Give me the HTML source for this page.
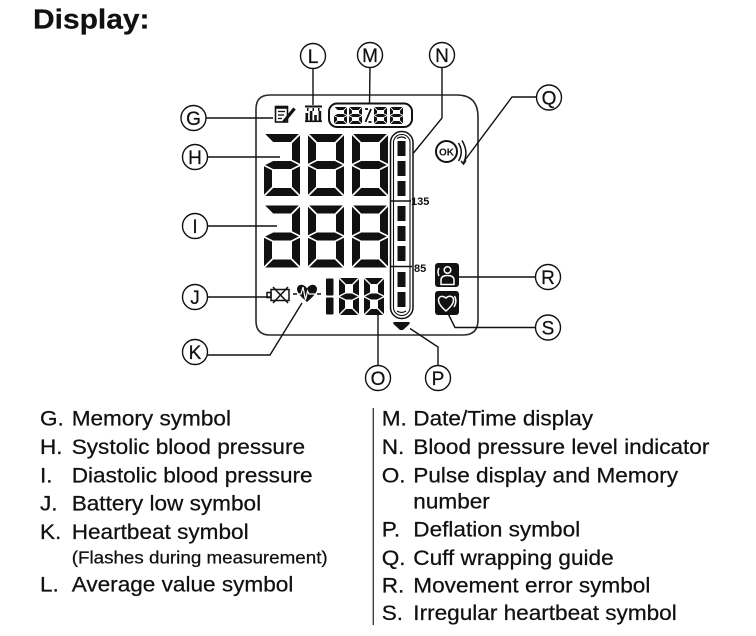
<!DOCTYPE html>
<html>
<head>
<meta charset="utf-8">
<style>
  html,body{margin:0;padding:0;background:#fff;}
  body{width:756px;height:636px;overflow:hidden;}
  svg{display:block;}
  .t{font-family:"Liberation Sans",Arial,sans-serif;fill:#111;}
  .s{stroke:#111;stroke-width:0.25;}
</style>
</head>
<body>
<svg width="756" height="636" viewBox="0 0 756 636" xmlns="http://www.w3.org/2000/svg">
  <defs>
    <g id="Bnf">
      <polygon points="1.2,0 34.8,0 26.8,8 9.2,8"/>
      <polygon points="36,1.2 28,9.2 28,25.8 36,29.8"/>
      <polygon points="36,32.2 28,36.2 28,52.8 36,60.8"/>
      <polygon points="1.2,62 34.8,62 26.8,54 9.2,54"/>
      <polygon points="0,32.2 8,36.2 8,52.8 0,60.8"/>
      <polygon points="1.2,31 9.2,27 26.8,27 34.8,31 26.8,35 9.2,35"/>
    </g>
    <g id="B8">
      <use href="#Bnf"/>
      <polygon points="0,1.2 8,9.2 8,25.8 0,29.8"/>
    </g>
    <g id="S8">
      <polygon points="1,0 19,0 13,6 7,6"/>
      <polygon points="20,1 14,7 14,14.5 20,17.5"/>
      <polygon points="20,19.5 14,22.5 14,30 20,36"/>
      <polygon points="1,37 19,37 13,31 7,31"/>
      <polygon points="0,19.5 6,22.5 6,30 0,36"/>
      <polygon points="0,1 6,7 6,14.5 0,17.5"/>
      <polygon points="1,18.5 7,15.5 13,15.5 19,18.5 13,21.5 7,21.5"/>
    </g>
    <g id="Dnf">
      <polygon points="0.6,0 12.4,0 9.4,3 3.6,3"/>
      <polygon points="13,0.6 10,3.6 10,6.4 13,7.9"/>
      <polygon points="13,9.1 10,10.6 10,13.4 13,16.4"/>
      <polygon points="0.6,17 12.4,17 9.4,14 3.6,14"/>
      <polygon points="0,9.1 3,10.6 3,13.4 0,16.4"/>
      <polygon points="0.6,8.5 3.6,7 9.4,7 12.4,8.5 9.4,10 3.6,10"/>
    </g>
    <g id="D8">
      <use href="#Dnf"/>
      <polygon points="0,0.6 3,3.6 3,6.4 0,7.9"/>
    </g>
  </defs>

  <text class="t s" font-size="28" font-weight="bold" transform="translate(33 28.3) scale(1.07 1)">Display:</text>

  <path d="M270,95 L457,95 Q478,95 478,117 L478,320 Q478,335 463,335 L270,335 Q256,335 256,321 L256,109 Q256,95 270,95 Z" fill="none" stroke="#2a2a2a" stroke-width="1.6"/>

  <g fill="#111">
    <use href="#Bnf" transform="translate(264 134)"/>
    <use href="#B8" transform="translate(308 134)"/>
    <use href="#B8" transform="translate(352 134)"/>
    <use href="#Bnf" transform="translate(264 205.5)"/>
    <use href="#B8" transform="translate(308 205.5)"/>
    <use href="#B8" transform="translate(352 205.5)"/>
    <rect x="326" y="278.5" width="7.5" height="17" rx="1"/>
    <rect x="326" y="297.5" width="7.5" height="17" rx="1"/>
    <use href="#S8" transform="translate(339 278)"/>
    <use href="#S8" transform="translate(364 278)"/>
    <use href="#Dnf" transform="translate(334 107)"/>
    <use href="#D8" transform="translate(349 107)"/>
    <use href="#D8" transform="translate(374 107)"/>
    <use href="#D8" transform="translate(390 107)"/>
  </g>
  <rect x="329" y="103.5" width="83" height="23.5" rx="8" fill="none" stroke="#111" stroke-width="2"/>
  <g stroke="#111" stroke-width="1.8" fill="none">
    <line x1="371" y1="109" x2="365.5" y2="122"/>
    <line x1="365" y1="109" x2="368" y2="109"/>
    <line x1="368.5" y1="122" x2="371.5" y2="122"/>
  </g>

  <g stroke="#111" fill="none">
    <rect x="275.5" y="106.5" width="12" height="15.5" stroke-width="1.6"/>
    <line x1="275" y1="107.5" x2="288" y2="107.5" stroke-width="2.6"/>
    <line x1="278" y1="111.5" x2="285" y2="111.5" stroke-width="1.3"/>
    <line x1="278" y1="115" x2="284" y2="115" stroke-width="1.3"/>
    <line x1="278" y1="118.5" x2="282" y2="118.5" stroke-width="1.3"/>
    <line x1="283.5" y1="122" x2="294.5" y2="108.5" stroke-width="3.2"/>
  </g>

  <g fill="#111">
    <rect x="305" y="105.5" width="17" height="2"/>
    <rect x="307" y="108" width="1.5" height="3"/>
    <rect x="312.5" y="108" width="1.5" height="3"/>
    <rect x="318" y="108" width="1.5" height="3"/>
    <rect x="305.5" y="113" width="2.6" height="8"/>
    <rect x="309.8" y="111" width="2.6" height="10"/>
    <rect x="314.2" y="115" width="2.6" height="6"/>
    <rect x="318.6" y="111" width="2.6" height="10"/>
    <rect x="305" y="120.5" width="17" height="1.6"/>
  </g>

  <rect x="390.5" y="131.5" width="22.5" height="187" rx="11" fill="none" stroke="#111" stroke-width="1.5"/>
  <rect x="393.5" y="134.5" width="16.5" height="181" rx="8" fill="none" stroke="#111" stroke-width="1.1"/>
  <g fill="#111">
    <rect x="397.5" y="141" width="8" height="15"/>
    <rect x="397.5" y="161" width="8" height="15"/>
    <rect x="397.5" y="181" width="8" height="15"/>
    <rect x="397.5" y="206" width="8" height="15"/>
    <rect x="397.5" y="226" width="8" height="15"/>
    <rect x="397.5" y="246" width="8" height="15"/>
    <rect x="397.5" y="272" width="8" height="15"/>
    <rect x="397.5" y="292" width="8" height="15"/>
  </g>
  <g stroke="#111" fill="none">
    <path d="M397,138.5 Q401.5,135.5 406,138.5" stroke-width="1.2"/>
    <path d="M397,311 Q401.5,314 406,311" stroke-width="1.2"/>
    <line x1="391" y1="201" x2="411" y2="201" stroke-width="1.6"/>
    <line x1="391" y1="266.5" x2="412" y2="266.5" stroke-width="1.6"/>
  </g>
  <text class="t" x="411" y="205" font-size="11" font-weight="bold">135</text>
  <text class="t" x="414" y="272" font-size="11" font-weight="bold">85</text>

  <path d="M394,322 L409,322 Q410,322 409.5,324 L403,330 L400,330 L393.5,324 Q393,322 394,322 Z" fill="#111"/>

  <circle cx="446.5" cy="151.5" r="10.5" fill="none" stroke="#111" stroke-width="2"/>
  <text class="t" x="446.5" y="155.3" font-size="10" font-weight="bold" text-anchor="middle">OK</text>
  <g stroke="#111" fill="none" stroke-width="1.5">
    <path d="M458.5,143 Q464,152 458.5,161"/>
    <path d="M462,140.5 Q469,152 463.5,163"/>
    <path d="M461,161 L463.5,164 L466,160.5"/>
  </g>

  <rect x="435" y="263" width="24" height="24" rx="3" fill="#111"/>
  <g stroke="#fff" fill="none" stroke-width="1.5">
    <circle cx="447.5" cy="270" r="3.3"/>
    <path d="M441,284.5 L441,279.5 Q441.5,275.5 447.5,275.5 Q453.5,275.5 454,279.5 L454,284.5 Z"/>
    <path d="M439,268 Q437,272 439,276"/>
  </g>

  <rect x="435" y="291" width="24" height="24" rx="3" fill="#111"/>
  <g stroke="#fff" fill="none" stroke-width="1.5">
    <path d="M446,311 C440,306 438.5,303 438.5,300 C438.5,296.5 442,295 446,298 C449,295 453.5,296 453.5,300 C453.5,303.5 451,306.5 446,311 Z"/>
    <path d="M454.5,296 Q457.5,301 454,307"/>
  </g>

  <g stroke="#111" fill="none" stroke-width="1.5">
    <rect x="271" y="289.5" width="18" height="11"/>
    <rect x="267" y="292.5" width="4" height="5"/>
    <line x1="273" y1="287" x2="288" y2="303"/>
    <line x1="288" y1="287" x2="273" y2="303"/>
  </g>

  <path d="M307,302 C300.5,296.5 297,292.5 297,289 C297,285.5 300.5,284 303,285 C305,285.8 306.5,287.5 307,288.5 C307.5,287.5 309,285.8 311,285 C313.5,284 317,285.5 317,289 C317,292.5 313.5,296.5 307,302 Z" fill="#111"/>
  <polyline points="296,294 301,294 303,287 305.5,300 307.5,291 309,294 318,294" fill="none" stroke="#fff" stroke-width="1.2"/>
  <g stroke="#111" stroke-width="1.5">
    <line x1="293" y1="294" x2="297" y2="294"/>
    <line x1="317" y1="294" x2="321" y2="294"/>
  </g>

  <g stroke="#111" stroke-width="1.4" fill="none">
    <line x1="313" y1="68.5" x2="313" y2="105"/>
    <line x1="370" y1="67.5" x2="369.5" y2="104"/>
    <polyline points="442,67.5 442,118 413.5,153"/>
    <line x1="205.5" y1="118" x2="273" y2="118"/>
    <line x1="207.5" y1="157" x2="280" y2="157"/>
    <line x1="207.5" y1="226" x2="277" y2="226"/>
    <line x1="207.5" y1="297" x2="270" y2="297"/>
    <polyline points="206.5,355 270,355 302,303"/>
    <line x1="378" y1="365.5" x2="378" y2="310"/>
    <polyline points="438,365.5 438,347 410,328.5"/>
    <polyline points="536.5,97 512,97 465,160"/>
    <line x1="535.5" y1="277" x2="458" y2="277"/>
    <polyline points="535.5,327.5 455,327.5 447,311.5"/>
  </g>

  <g fill="#fff" stroke="#111" stroke-width="1.4">
    <circle cx="313" cy="56" r="12.5"/>
    <circle cx="370" cy="55" r="12.5"/>
    <circle cx="442" cy="55" r="12.5"/>
    <circle cx="193.5" cy="118" r="12.5"/>
    <circle cx="195" cy="157" r="12.5"/>
    <circle cx="195" cy="226" r="12.5"/>
    <circle cx="195" cy="297" r="12.5"/>
    <circle cx="195" cy="352" r="12.5"/>
    <circle cx="378" cy="378" r="12.5"/>
    <circle cx="438" cy="378" r="12.5"/>
    <circle cx="549" cy="97.5" r="12.5"/>
    <circle cx="548" cy="277" r="12.5"/>
    <circle cx="548" cy="327.5" r="12.5"/>
  </g>
  <g class="t s" font-size="19" text-anchor="middle">
    <text x="313" y="62.8">L</text>
    <text x="370" y="61.8">M</text>
    <text x="442" y="61.8">N</text>
    <text x="193.5" y="124.8">G</text>
    <text x="195" y="163.8">H</text>
    <text x="195" y="232.8">I</text>
    <text x="195" y="303.8">J</text>
    <text x="195" y="358.8">K</text>
    <text x="378" y="384.8">O</text>
    <text x="438" y="384.8">P</text>
    <text x="549" y="104.3">Q</text>
    <text x="548" y="283.8">R</text>
    <text x="548" y="334.3">S</text>
  </g>

  <line x1="373.3" y1="408" x2="373.3" y2="625" stroke="#333" stroke-width="1.3"/>

  <g class="t s" font-size="21">
    <text transform="translate(40 425.7) scale(1.075 1)">G.</text>
    <text transform="translate(71.7 425.7) scale(1.075 1)">Memory symbol</text>
    <text transform="translate(40 454) scale(1.075 1)">H.</text>
    <text transform="translate(71.7 454) scale(1.075 1)">Systolic blood pressure</text>
    <text transform="translate(40 482.3) scale(1.075 1)">I.</text>
    <text transform="translate(71.7 482.3) scale(1.075 1)">Diastolic blood pressure</text>
    <text transform="translate(40 510.7) scale(1.075 1)">J.</text>
    <text transform="translate(71.7 510.7) scale(1.075 1)">Battery low symbol</text>
    <text transform="translate(40 539) scale(1.075 1)">K.</text>
    <text transform="translate(71.7 539) scale(1.075 1)">Heartbeat symbol</text>
    <text transform="translate(71.7 563.3) scale(1.075 1)" font-size="17.5">(Flashes during measurement)</text>
    <text transform="translate(40 591.7) scale(1.075 1)">L.</text>
    <text transform="translate(71.7 591.7) scale(1.075 1)">Average value symbol</text>
  </g>

  <g class="t s" font-size="21">
    <text transform="translate(381.7 425.7) scale(1.075 1)">M.</text>
    <text transform="translate(413.3 425.7) scale(1.075 1)">Date/Time display</text>
    <text transform="translate(381.7 454) scale(1.075 1)">N.</text>
    <text transform="translate(413.3 454) scale(1.075 1)">Blood pressure level indicator</text>
    <text transform="translate(381.7 482.3) scale(1.075 1)">O.</text>
    <text transform="translate(413.3 482.3) scale(1.075 1)">Pulse display and Memory</text>
    <text transform="translate(413.3 508.3) scale(1.075 1)">number</text>
    <text transform="translate(381.7 536.7) scale(1.075 1)">P.</text>
    <text transform="translate(413.3 536.7) scale(1.075 1)">Deflation symbol</text>
    <text transform="translate(381.7 565) scale(1.075 1)">Q.</text>
    <text transform="translate(413.3 565) scale(1.075 1)">Cuff wrapping guide</text>
    <text transform="translate(381.7 592.3) scale(1.075 1)">R.</text>
    <text transform="translate(413.3 592.3) scale(1.075 1)">Movement error symbol</text>
    <text transform="translate(381.7 620) scale(1.075 1)">S.</text>
    <text transform="translate(413.3 620) scale(1.075 1)">Irregular heartbeat symbol</text>
  </g>
</svg>
</body>
</html>
